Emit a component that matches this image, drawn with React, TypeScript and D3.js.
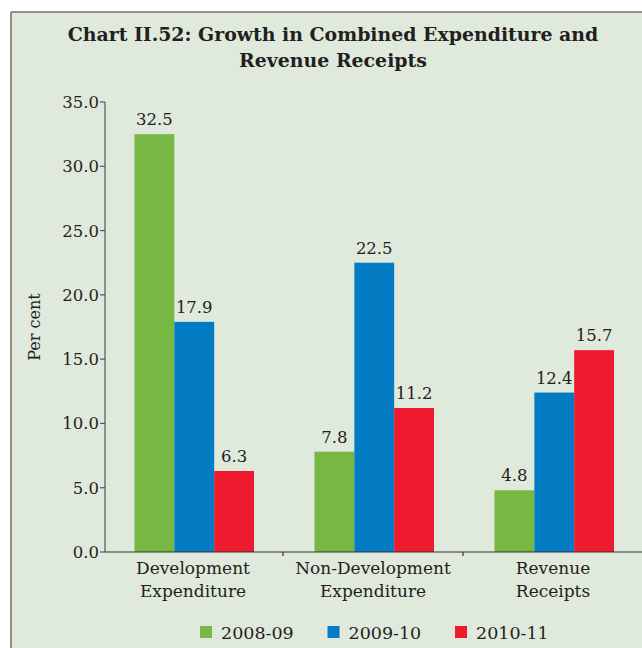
import * as d3 from "d3";

const categories = ["Development Expenditure", "Non-Development Expenditure", "Revenue Receipts"];
const series = ["2008-09", "2009-10", "2010-11"];
const values2008 = [32.5, 7.8, 4.8];
const values2009 = [17.9, 22.5, 12.4];
const values2010 = [6.3, 11.2, 15.7];
const yTicks = [0, 5, 10, 15, 20, 25, 30, 35];

const colors = ["#77b743", "#047cc4", "#ee1b2f"];
const font = "'DejaVu Serif', serif";

const App = () => {
  const width = 642;
  const height = 648;

  // plot area
  const x0 = d3.scaleBand<string>().domain(categories).range([103, 643]);
  const x1 = d3.scaleBand<string>().domain(series).range([31.5, 151]);
  const y = d3.scaleLinear().domain([0, 35]).range([552, 102]);

  const seriesValues = [values2008, values2009, values2010];
  const color = d3.scaleOrdinal<string, string>().domain(series).range(colors);

  return (
    <svg
      width={width}
      height={height}
      style={{ position: "fixed", left: 0, top: 0, background: "#fff" }}
    >
      {/* panel */}
      <rect x={11} y={12} width={width} height={height} fill="#dfe9dc" />
      <line x1={11} y1={12} x2={width} y2={12} stroke="#6e6e6e" strokeWidth={1.5} />
      <line x1={11} y1={12} x2={11} y2={height} stroke="#6e6e6e" strokeWidth={1.5} />

      {/* title */}
      <text x={333} y={41} textAnchor="middle" fontFamily={font} fontWeight="bold" fontSize={18.9} fill="#231f20">
        Chart II.52: Growth in Combined Expenditure and
      </text>
      <text x={333} y={67} textAnchor="middle" fontFamily={font} fontWeight="bold" fontSize={18.9} fill="#231f20">
        Revenue Receipts
      </text>

      {/* bars */}
      {categories.map((c, i) => (
        <g key={c} transform={`translate(${x0(c)},0)`}>
          {series.map((s, j) => {
            const v = seriesValues[j][i];
            const bx = x1(s) || 0;
            return (
              <g key={s}>
                <rect x={bx} y={y(v)} width={x1.bandwidth()} height={y(0) - y(v)} fill={color(s)} />
                <text
                  x={bx + x1.bandwidth() / 2}
                  y={y(v) - 9}
                  textAnchor="middle"
                  fontFamily={font}
                  fontSize={16.5}
                  fill="#231f20"
                >
                  {v.toFixed(1)}
                </text>
              </g>
            );
          })}
        </g>
      ))}

      {/* y axis */}
      <line x1={105} y1={y(35)} x2={105} y2={y(0)} stroke="#555" strokeWidth={1.2} />
      {yTicks.map((t) => (
        <g key={t}>
          <line x1={100} x2={105} y1={y(t)} y2={y(t)} stroke="#555" strokeWidth={1.2} />
          <text x={99} y={y(t) + 6} textAnchor="end" fontFamily={font} fontSize={16.5} fill="#231f20">
            {t.toFixed(1)}
          </text>
        </g>
      ))}
      <text
        transform={`translate(40,327) rotate(-90)`}
        textAnchor="middle"
        fontFamily={font}
        fontSize={16}
        fill="#231f20"
      >
        Per cent
      </text>

      {/* x axis */}
      <line x1={105} y1={y(0)} x2={width} y2={y(0)} stroke="#333" strokeWidth={1.2} />
      {categories.slice(1).map((c) => (
        <line key={c} x1={x0(c)} x2={x0(c)} y1={y(0)} y2={y(0) + 4} stroke="#333" strokeWidth={1.2} />
      ))}
      {categories.map((c) => {
        const parts = c.split(" ");
        const cx = (x0(c) || 0) + x0.bandwidth() / 2;
        return (
          <text key={c} textAnchor="middle" fontFamily={font} fontSize={17} fill="#231f20">
            <tspan x={cx} y={574}>{parts[0]}</tspan>
            <tspan x={cx} y={597}>{parts[1]}</tspan>
          </text>
        );
      })}

      {/* legend */}
      {series.map((s, i) => {
        const lx = 200 + i * 127.5;
        return (
          <g key={s}>
            <rect x={lx} y={626} width={12} height={12} fill={color(s)} />
            <text x={lx + 21} y={639} fontFamily={font} fontSize={17.5} fill="#231f20">
              {s}
            </text>
          </g>
        );
      })}
    </svg>
  );
};

export default App;
